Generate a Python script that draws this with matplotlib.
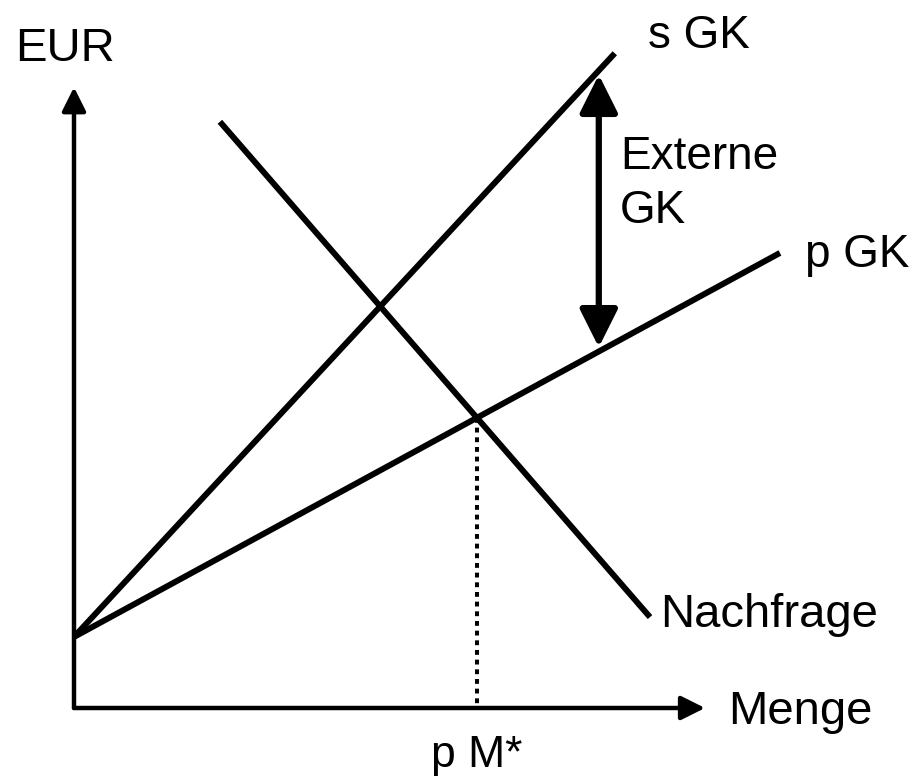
import matplotlib.pyplot as plt
import numpy as np

plt.rcParams['font.family'] = ['Liberation Sans', 'DejaVu Sans']

# diagram values (quantity on x, EUR on y)
q_max = 9.86
p_max = 9.70
s_gk_q = [0.0, 8.45]
s_gk_p = [1.11, 10.23]
p_gk_q = [0.0, 11.03]
p_gk_p = [1.11, 7.11]
demand_q = [2.28, 9.00]
demand_p = [9.16, 1.42]
ext_q = 8.2

px = 64.0  # pixels per unit
fig = plt.figure(figsize=(9.17, 7.78), dpi=100)
ax = fig.add_axes([0, 0, 1, 1])
ax.set_xlim(-74 / px, 843 / px)
ax.set_ylim(-70 / px, 708 / px)
ax.axis('off')

lw = 4.3
ax.plot(s_gk_q, s_gk_p, color='black', lw=lw, solid_capstyle='butt')
ax.plot(p_gk_q, p_gk_p, color='black', lw=lw, solid_capstyle='butt')
ax.plot(demand_q, demand_p, color='black', lw=lw, solid_capstyle='butt')

# intersection of p GK and demand
m1 = (p_gk_p[1] - p_gk_p[0]) / (p_gk_q[1] - p_gk_q[0])
m2 = (demand_p[1] - demand_p[0]) / (demand_q[1] - demand_q[0])
b1 = p_gk_p[0] - m1 * p_gk_q[0]
b2 = demand_p[0] - m2 * demand_q[0]
q_star = (b2 - b1) / (m1 - m2)
p_star = m1 * q_star + b1
ax.plot([q_star, q_star], [p_star, 0], color='black', lw=2.9,
        linestyle=(0, (1.2, 1.2)))

# axes with arrows
axis_kw = dict(arrowstyle='-|>', mutation_scale=36, lw=3.2, color='black',
               shrinkA=0, shrinkB=0)
ax.annotate('', xy=(0, p_max), xytext=(0, 0), arrowprops=axis_kw)
ax.annotate('', xy=(q_max, 0), xytext=(0, 0), arrowprops=axis_kw)

# external cost arrow
top = np.interp(ext_q, s_gk_q, s_gk_p)
bottom = np.interp(ext_q, p_gk_q, p_gk_p)
ax.annotate('', xy=(ext_q, top), xytext=(ext_q, bottom),
            arrowprops=dict(arrowstyle='<|-|>', mutation_scale=58, lw=4.5,
                            color='black', shrinkA=3, shrinkB=3))

fs = 34
ax.text(-0.92, 10.11, 'EUR', fontsize=fs, va='baseline')
ax.text(10.22, -0.25, 'Menge', fontsize=fs, va='baseline')
ax.text(9.16, 1.27, 'Nachfrage', fontsize=fs, va='baseline')
ax.text(8.97, 10.31, 's GK', fontsize=33, va='baseline')
ax.text(11.42, 6.89, 'p GK', fontsize=33, va='baseline')
ax.text(8.53, 7.58, 'Externe\nGK', fontsize=33, va='baseline', linespacing=1.3)
ax.text(q_star, -0.92, 'p M*', fontsize=32, va='baseline', ha='center')

fig.savefig('out.png', dpi=100)
